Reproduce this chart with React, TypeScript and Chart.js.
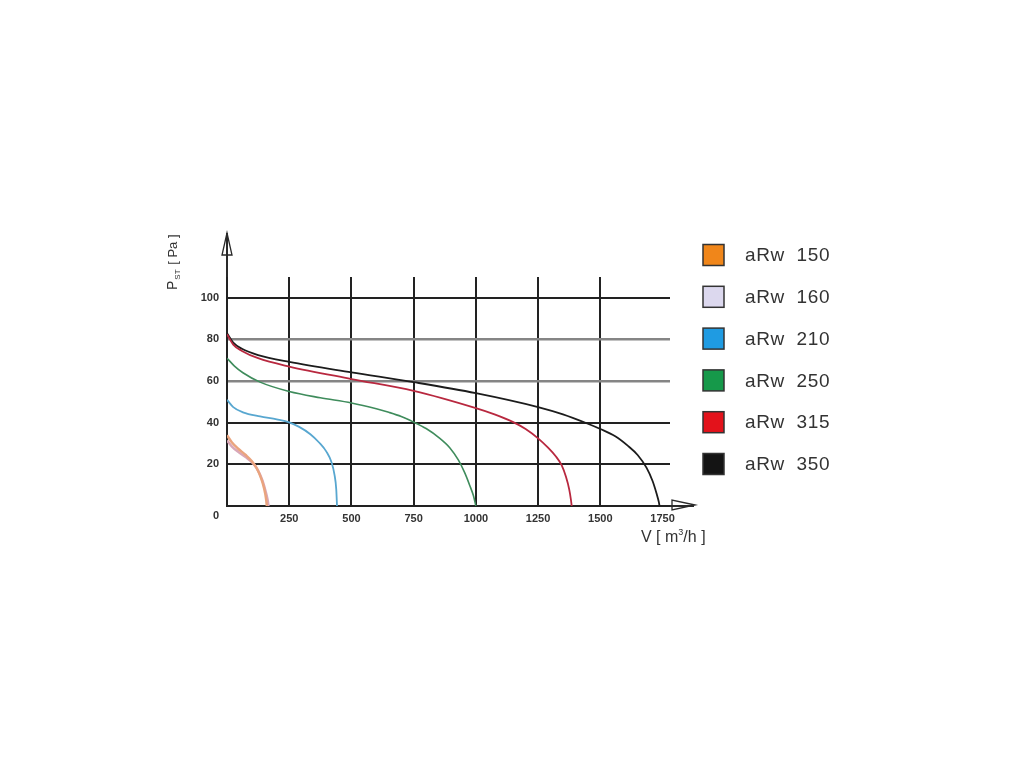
import React, { useEffect, useRef } from "react";
import { Chart, registerables } from "chart.js";

Chart.register(...registerables);

const seriesLabels = ["aRw  150", "aRw  160", "aRw  210", "aRw  250", "aRw  315", "aRw  350"];
const lineColors = ["#eaa47e", "#d9a7b8", "#58a7d0", "#3f8c5c", "#b8283f", "#1c1c1c"];
const lineWidths = [2.5, 2.5, 1.8, 1.6, 1.8, 1.8];
const legendColors = ["#f0861a", "#dcd8ee", "#1f9be2", "#16994a", "#e3121b", "#141414"];

const xTicks = [0, 250, 500, 750, 1000, 1250, 1500, 1750];
const yTicks = [0, 20, 40, 60, 80, 100];
const xMax = 1780;
const yMax = 110;

const v150 = [0, 20, 45, 75, 100, 120, 138, 150, 157, 160];
const p150 = [34, 30.5, 27.5, 24.5, 21.5, 18, 13, 8, 3.5, 0];

const v160 = [0, 20, 45, 75, 105, 125, 143, 155, 163, 167];
const p160 = [31.5, 28.5, 26, 23.5, 20.5, 17, 12, 7, 3, 0];

const v210 = [0, 25, 64, 133, 200, 250, 290, 335, 370, 400, 420, 432, 439, 442];
const p210 = [51, 47.5, 45, 43, 41.6, 40.2, 38, 34.5, 30.5, 26, 21, 15, 8, 0];

const v250 = [0, 30, 64, 133, 250, 375, 500, 600, 650, 700, 750, 800, 850, 895, 930, 955, 975, 990, 1000];
const p250 = [71, 67.2, 64, 59.5, 55, 52, 49.5, 46.7, 45, 43, 40.3, 37.2, 33, 28, 22, 16, 10, 5, 0];

const v315 = [0, 25, 60, 125, 250, 500, 750, 1000, 1075, 1150, 1200, 1250, 1290, 1320, 1345, 1362, 1375, 1382, 1385];
const p315 = [82.5, 77.5, 74.5, 71, 67, 61, 55.3, 47, 44, 40.3, 37, 32.5, 28, 24, 19.5, 14, 8, 3, 0];

const v350 = [0, 25, 60, 125, 250, 500, 750, 1000, 1250, 1350, 1450, 1500, 1560, 1610, 1650, 1686, 1710, 1726, 1735, 1738];
const p350 = [83, 78.5, 75.5, 72.5, 69.2, 64.2, 59.5, 54.2, 47.5, 44, 39.5, 37, 33.5, 29, 24.5, 18.3, 12, 6, 2, 0];

const seriesV = [v150, v160, v210, v250, v315, v350];
const seriesP = [p150, p160, p210, p250, p315, p350];

const FONT = "'Liberation Sans', Arial, sans-serif";

const decorPlugin = {
  id: "decor",
  afterDraw(chart: any) {
    const ctx = chart.ctx as CanvasRenderingContext2D;
    const { left, top, right, bottom } = chart.chartArea;
    ctx.save();
    ctx.strokeStyle = "#2a2a2a";
    // y-axis arrow
    ctx.lineWidth = 2;
    ctx.beginPath();
    ctx.moveTo(left, top);
    ctx.lineTo(left, top - 44);
    ctx.stroke();
    ctx.lineWidth = 1.3;
    ctx.beginPath();
    ctx.moveTo(left, top - 44);
    ctx.lineTo(left - 5, top - 22);
    ctx.lineTo(left + 5, top - 22);
    ctx.closePath();
    ctx.stroke();
    // x-axis arrow
    ctx.lineWidth = 2;
    ctx.beginPath();
    ctx.moveTo(right, bottom);
    ctx.lineTo(right + 24, bottom);
    ctx.stroke();
    ctx.lineWidth = 1.3;
    ctx.beginPath();
    ctx.moveTo(right + 25, bottom - 1);
    ctx.lineTo(right + 2, bottom - 6);
    ctx.lineTo(right + 2, bottom + 4);
    ctx.closePath();
    ctx.stroke();

    // "0" at the corner
    ctx.fillStyle = "#333";
    ctx.font = `bold 11px ${FONT}`;
    ctx.textAlign = "center";
    ctx.textBaseline = "middle";
    ctx.fillText("0", left - 11, bottom + 10);

    // y title, rotated
    ctx.save();
    ctx.translate(left - 50, top + 13);
    ctx.rotate(-Math.PI / 2);
    ctx.textAlign = "left";
    ctx.textBaseline = "alphabetic";
    ctx.fillStyle = "#333";
    ctx.font = `14px ${FONT}`;
    ctx.fillText("P", 0, 0);
    let w = ctx.measureText("P").width;
    ctx.font = `8px ${FONT}`;
    ctx.fillText("ST", w + 1, 3);
    w += ctx.measureText("ST").width + 2;
    ctx.font = `13px ${FONT}`;
    ctx.fillText(" [ Pa ]", w, 0);
    ctx.restore();

    // x title
    ctx.textAlign = "left";
    ctx.textBaseline = "alphabetic";
    ctx.fillStyle = "#333";
    const tx = right - 29;
    const ty = bottom + 36;
    ctx.font = `16px ${FONT}`;
    const p1 = "V [ m";
    ctx.fillText(p1, tx, ty);
    let xw = ctx.measureText(p1).width;
    ctx.font = `9px ${FONT}`;
    ctx.fillText("3", tx + xw, ty - 7);
    xw += ctx.measureText("3").width;
    ctx.font = `16px ${FONT}`;
    ctx.fillText("/h ]", tx + xw, ty);

    // legend
    const lx = 703;
    const ly0 = 255;
    const step = 41.8;
    for (let i = 0; i < seriesLabels.length; i++) {
      const cy = ly0 + i * step;
      ctx.fillStyle = legendColors[i];
      ctx.fillRect(lx, cy - 10.5, 21, 21);
      ctx.strokeStyle = "#333";
      ctx.lineWidth = 1.5;
      ctx.strokeRect(lx, cy - 10.5, 21, 21);
      ctx.fillStyle = "#333";
      ctx.font = `19px ${FONT}`;
      (ctx as any).letterSpacing = "0.6px";
      ctx.textAlign = "left";
      ctx.textBaseline = "middle";
      ctx.fillText(seriesLabels[i], 745, cy + 1);
      (ctx as any).letterSpacing = "0px";
    }
    ctx.restore();
  },
};

export default function App() {
  const canvasRef = useRef<HTMLCanvasElement | null>(null);

  useEffect(() => {
    if (!canvasRef.current) return;
    const datasets = seriesLabels.map((label, i) => ({
      label,
      data: seriesV[i].map((v, j) => ({ x: v, y: seriesP[i][j] })),
      borderColor: lineColors[i],
      backgroundColor: legendColors[i],
      borderWidth: lineWidths[i],
      pointRadius: 0,
      fill: false,
      cubicInterpolationMode: "monotone" as const,
    }));
    const chart = new Chart(canvasRef.current, {
      type: "line",
      data: { datasets },
      options: {
        animation: false,
        responsive: false,
        devicePixelRatio: 1,
        layout: { padding: { left: 170, top: 277, right: 354, bottom: 232 } },
        plugins: {
          legend: { display: false },
          tooltip: { enabled: false },
        },
        scales: {
          x: {
            type: "linear",
            min: 0,
            max: xMax,
            afterFit: (s: any) => {
              s.height = 30;
            },
            afterBuildTicks: (s: any) => {
              s.ticks = xTicks.map((v) => ({ value: v }));
            },
            grid: {
              color: (c: any) =>
                c.tick && (c.tick.value === 0 || c.tick.value === 1750) ? "rgba(0,0,0,0)" : "#222",
              lineWidth: 2,
              drawTicks: false,
            },
            border: { display: true, color: "#222", width: 2 },
            ticks: {
              padding: 6,
              color: "#333",
              font: { family: FONT, size: 11, weight: "bold" },
              maxRotation: 0,
              autoSkip: false,
              callback: (v: any) => (v === 0 ? "" : String(v)),
            },
          },
          y: {
            type: "linear",
            min: 0,
            max: yMax,
            afterFit: (s: any) => {
              s.width = 57;
            },
            afterBuildTicks: (s: any) => {
              s.ticks = yTicks.map((v) => ({ value: v }));
            },
            grid: {
              color: (c: any) => {
                const v = c.tick ? c.tick.value : 0;
                if (v === 0) return "rgba(0,0,0,0)";
                if (v === 60 || v === 80) return "#858585";
                return "#222";
              },
              lineWidth: (c: any) => {
                const v = c.tick ? c.tick.value : 0;
                return v === 60 || v === 80 ? 2.5 : 2;
              },
              drawTicks: false,
            },
            border: { display: true, color: "#222", width: 2 },
            ticks: {
              padding: 8,
              color: "#333",
              font: { family: FONT, size: 11, weight: "bold" },
              autoSkip: false,
              callback: (v: any) => (v === 0 ? "" : String(v)),
            },
          },
        },
      },
      plugins: [decorPlugin],
    });
    return () => chart.destroy();
  }, []);

  return (
    <div style={{ position: "absolute", left: 0, top: 0, width: 1024, height: 768, background: "#fff" }}>
      <canvas ref={canvasRef} width={1024} height={768} style={{ display: "block" }} />
    </div>
  );
}
